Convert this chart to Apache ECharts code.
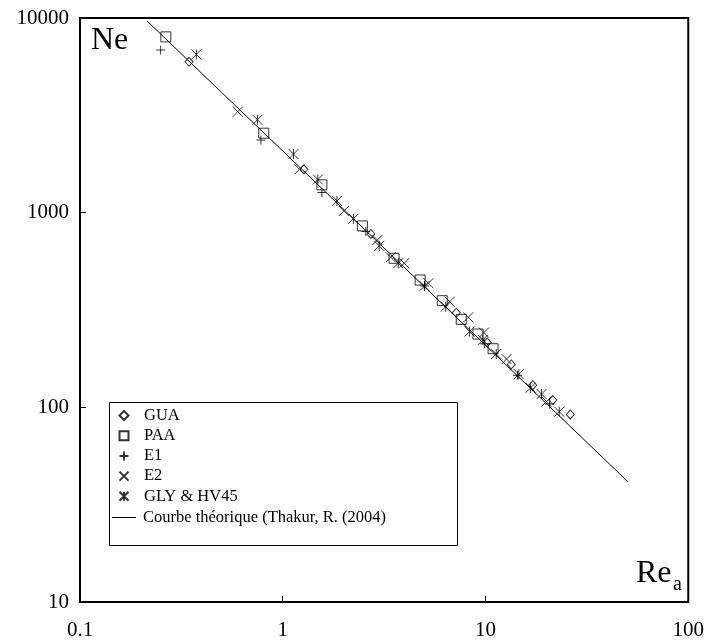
<!DOCTYPE html>
<html>
<head>
<meta charset="utf-8">
<script src="https://cdn.jsdelivr.net/npm/echarts@6/dist/echarts.min.js"></script>
<style>
html,body{margin:0;padding:0;background:#fff;}
#chart{width:707px;height:642px;}
</style>
</head>
<body>
<div id="chart"></div>
<script>
// ---- data ----
var xTickLabels = ['0.1', '1', '10', '100'];
var yTickLabels = ['10', '100', '1000', '10000'];

var guaX = [0.345, 1.27, 2.72, 7.18, 10.2, 13.4, 17.1, 21.5, 26.2];
var guaY = [5960, 1670, 777, 306, 215, 166, 130, 109, 92];

var paaX = [0.265, 0.806, 1.56, 2.47, 3.54, 4.76, 6.12, 7.59, 9.18, 10.9];
var paaY = [8000, 2560, 1390, 855, 583, 451, 353, 283, 238, 200];

var e1X = [0.25, 0.78, 1.56, 2.57, 5.0, 9.9, 14.4, 20.7];
var e1Y = [6850, 2360, 1270, 800, 420, 212, 146, 104];

var e2X = [0.60, 1.21, 2.0, 2.93, 3.41, 3.97, 5.23, 6.66, 8.22, 9.82, 12.7, 20.0];
var e2Y = [3300, 1670, 1020, 724, 590, 550, 434, 349, 290, 242, 177, 107];

var glyX = [0.375, 0.75, 1.13, 1.49, 1.85, 2.23, 2.99, 3.71, 5.0, 6.37, 8.35, 9.71, 11.3, 14.6, 16.7, 18.9, 23.1];
var glyY = [6500, 3000, 2000, 1480, 1150, 930, 675, 550, 420, 329, 245, 222, 188, 148, 126, 117, 95];

var curveX = [0.214, 50.4];
var curveY = [9660, 41.5];

var names = ['GUA', 'PAA', 'E1', 'E2', 'GLY & HV45', 'Courbe th\u00e9orique (Thakur, R. (2004)'];

function pairs(xs, ys) { return xs.map(function (x, i) { return [x, ys[i]]; }); }

var FONT = '"Liberation Serif", "Times New Roman", serif';
var hollow = { color: 'rgba(0,0,0,0)', borderColor: '#000', borderWidth: 1 };

var chart = echarts.init(document.getElementById('chart'), null, { renderer: 'canvas' });
chart.setOption({
  animation: false,
  backgroundColor: '#fff',
  textStyle: { fontFamily: FONT },
  grid: { left: 80, right: 17, top: 18, bottom: 40, show: true, borderColor: '#000', borderWidth: 2, backgroundColor: 'transparent' },
  xAxis: {
    type: 'log', logBase: 10, min: 0.1, max: 100,
    axisLine: { show: true, lineStyle: { color: '#000', width: 2 } },
    axisTick: { show: true, inside: true, length: 6, lineStyle: { color: '#000', width: 1 } },
    minorTick: { show: false },
    splitLine: { show: false },
    axisLabel: {
      color: '#000', fontFamily: FONT, fontSize: 21, margin: 18,
      formatter: function (v) { var i = Math.round(Math.log10(v)) + 1; return xTickLabels[i] || ''; }
    }
  },
  yAxis: {
    type: 'log', logBase: 10, min: 10, max: 10000,
    axisLine: { show: true, lineStyle: { color: '#000', width: 2 } },
    axisTick: { show: true, inside: true, length: 6, lineStyle: { color: '#000', width: 1 } },
    minorTick: { show: false },
    splitLine: { show: false },
    axisLabel: {
      color: '#000', fontFamily: FONT, fontSize: 21, margin: 11,
      formatter: function (v) { var i = Math.round(Math.log10(v)) - 1; return yTickLabels[i] || ''; }
    }
  },
  legend: [
    {
      orient: 'vertical', left: 118.5, top: 407, padding: 0,
      itemWidth: 9, itemHeight: 9, itemGap: 3.2,
      textStyle: { fontFamily: FONT, fontSize: 16.5, color: '#000', padding: [0, 0, 0, 10.5] },
      data: names.slice(0, 5)
    },
    {
      orient: 'vertical', left: 112, top: 509, padding: 0,
      itemWidth: 24, itemHeight: 1,
      textStyle: { fontFamily: FONT, fontSize: 16.5, color: '#000', padding: [0, 0, 0, 2] },
      data: [{ name: names[5], icon: 'rect', itemStyle: { color: '#000' } }]
    }
  ],
  graphic: [
    { type: 'rect', left: 109, top: 402, shape: { width: 348, height: 143 }, style: { fill: 'transparent', stroke: '#000', lineWidth: 1 }, z: 10 },
    { type: 'text', left: 91, top: 25, style: { text: 'Ne', font: '32px ' + FONT, fill: '#000' }, z: 10 },
    { type: 'text', left: 636, top: 558, style: { text: 'Re', font: '32px ' + FONT, fill: '#000' }, z: 10 },
    { type: 'text', left: 673, top: 575, style: { text: 'a', font: '20px ' + FONT, fill: '#000' }, z: 10 }
  ],
  series: [
    { name: names[0], type: 'scatter', symbol: 'diamond', symbolSize: [8, 9], itemStyle: hollow, data: pairs(guaX, guaY) },
    { name: names[1], type: 'scatter', symbol: 'rect', symbolSize: 10, itemStyle: hollow, data: pairs(paaX, paaY) },
    { name: names[2], type: 'scatter', symbol: 'path://M0,5L10,5M5,0L5,10', symbolSize: 9, itemStyle: hollow, data: pairs(e1X, e1Y) },
    { name: names[3], type: 'scatter', symbol: 'path://M0,0L10,10M10,0L0,10', symbolSize: 10, itemStyle: hollow, data: pairs(e2X, e2Y) },
    { name: names[4], type: 'scatter', symbol: 'path://M0,0L10,10M10,0L0,10M5,0L5,10', symbolSize: 10, itemStyle: hollow, data: pairs(glyX, glyY) },
    { name: names[5], type: 'line', symbol: 'none', lineStyle: { color: '#000', width: 1 }, itemStyle: { color: '#000' }, data: pairs(curveX, curveY), z: 1 }
  ]
});
</script>
</body>
</html>
